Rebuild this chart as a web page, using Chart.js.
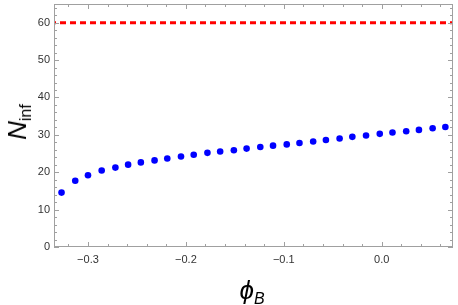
<!DOCTYPE html>
<html>
<head>
<meta charset="utf-8">
<script src="https://cdn.jsdelivr.net/npm/chart.js@4.4.1/dist/chart.umd.min.js"></script>
<style>
  html, body { margin: 0; padding: 0; background: #fff; }
  #wrap { position: relative; width: 458px; height: 305px; overflow: hidden; }
  #c { position: absolute; left: 0; top: 0; }
  .ttl { position: absolute; font-family: "Liberation Sans", Arial, sans-serif; color: #000; white-space: nowrap; line-height: 1; }
  .ttl i { font-size: 26px; }
  .ttl sub { font-size: 16px; vertical-align: baseline; position: relative; top: 5px; }
  #ytitle { left: 17px; top: 122px; transform: translate(-50%, -50%) rotate(-90deg); }
  #xtitle { left: 252px; top: 290px; transform: translate(-50%, -50%); }
</style>
</head>
<body>
<div id="wrap">
  <canvas id="c" width="458" height="305"></canvas>
  <div id="ytitle" class="ttl"><i>N</i><sub>inf</sub></div>
  <div id="xtitle" class="ttl"><i>ϕ</i><sub><i style="font-size:16px">B</i></sub></div>
</div>
<script>
// ── DATA ───────────────────────────────────────
const phiB = [
  -0.327, -0.313, -0.300, -0.286, -0.272, -0.259, -0.246, -0.232, -0.219, -0.205,
  -0.192, -0.178, -0.165, -0.151, -0.138, -0.124, -0.111, -0.097, -0.084, -0.070,
  -0.057, -0.043, -0.030, -0.016, -0.002,  0.011,  0.025,  0.038,  0.052,  0.065
];
const nInf = [
  14.55, 17.71, 19.21, 20.45, 21.24, 22.03, 22.63, 23.16, 23.68, 24.21,
  24.66, 25.18, 25.53, 25.87, 26.32, 26.76, 27.11, 27.45, 27.82, 28.24,
  28.61, 29.03, 29.47, 29.82, 30.26, 30.61, 30.97, 31.32, 31.76, 32.11
];
const refLevel = 60;           // red dashed line
const xRange = [-0.3347, 0.0728];
const yRange = [0, 65];

// ── FRAME + INWARD TICKS (Mathematica style) ──
const MINUS = '\u2212';
function stepsIn(min, max, step) {
  const out = [];
  for (let k = Math.ceil(min / step - 1e-9); k * step <= max + 1e-9; k++) out.push(+(k * step).toFixed(6));
  return out;
}

const framePlugin = {
  id: 'frame',
  afterDatasetsDraw(chart) {
    const { ctx, chartArea: a, scales: { x, y } } = chart;
    ctx.save();
    ctx.strokeStyle = '#a0a0a0';
    ctx.lineWidth = 1;
    ctx.strokeRect(a.left + 0.5, a.top + 0.5, a.right - a.left - 1, a.bottom - a.top - 1);

    ctx.beginPath();
    // x ticks, bottom and top
    stepsIn(x.min, x.max, 0.02).forEach(v => {
      const major = Math.abs(v * 10 - Math.round(v * 10)) < 1e-6;
      const len = major ? 5 : 3;
      const px = Math.round(x.getPixelForValue(v)) + 0.5;
      ctx.moveTo(px, a.bottom); ctx.lineTo(px, a.bottom - len);
      ctx.moveTo(px, a.top);    ctx.lineTo(px, a.top + len);
    });
    // y ticks, left and right
    stepsIn(y.min, y.max, 2).forEach(v => {
      const len = v % 10 === 0 ? 5 : 3;
      const py = Math.round(y.getPixelForValue(v)) + 0.5;
      ctx.moveTo(a.left, py);  ctx.lineTo(a.left + len, py);
      ctx.moveTo(a.right, py); ctx.lineTo(a.right - len, py);
    });
    ctx.stroke();
    ctx.restore();
  }
};

const tickFont = { family: '"Liberation Sans", Arial, sans-serif', size: 11 };

new Chart(document.getElementById('c'), {
  type: 'scatter',
  data: {
    datasets: [
      {
        type: 'line',
        data: [{ x: xRange[0], y: refLevel }, { x: xRange[1], y: refLevel }],
        borderColor: '#ff0000',
        borderWidth: 3,
        borderDash: [6, 4],
        borderDashOffset: 4,
        pointRadius: 0,
        fill: false
      },
      {
        data: phiB.map((v, i) => ({ x: v, y: nInf[i] })),
        backgroundColor: '#0000ff',
        borderWidth: 0,
        pointRadius: 3.3
      }
    ]
  },
  options: {
    responsive: false,
    animation: false,
    devicePixelRatio: 1,
    layout: { padding: { top: 0, right: 5, left: 0, bottom: 0 } },
    plugins: { legend: { display: false }, tooltip: { enabled: false } },
    scales: {
      x: {
        type: 'linear',
        min: xRange[0], max: xRange[1],
        grid: { display: false, drawTicks: false },
        border: { display: false },
        ticks: {
          stepSize: 0.1, includeBounds: false, padding: 6,
          color: '#333', font: tickFont, maxRotation: 0,
          callback: v => (v < -1e-9 ? MINUS : '') + Math.abs(v).toFixed(1)
        },
        afterFit: s => { s.height = 58; s.paddingLeft = 0; s.paddingRight = 0; }
      },
      y: {
        min: yRange[0], max: yRange[1],
        grid: { display: false, drawTicks: false },
        border: { display: false },
        ticks: {
          stepSize: 10, includeBounds: false, padding: 4,
          color: '#333', font: tickFont,
          callback: v => String(v)
        },
        afterFit: s => { s.width = 54; s.paddingTop = 0; s.paddingBottom = 0; }
      }
    }
  },
  plugins: [framePlugin]
});
</script>
</body>
</html>
